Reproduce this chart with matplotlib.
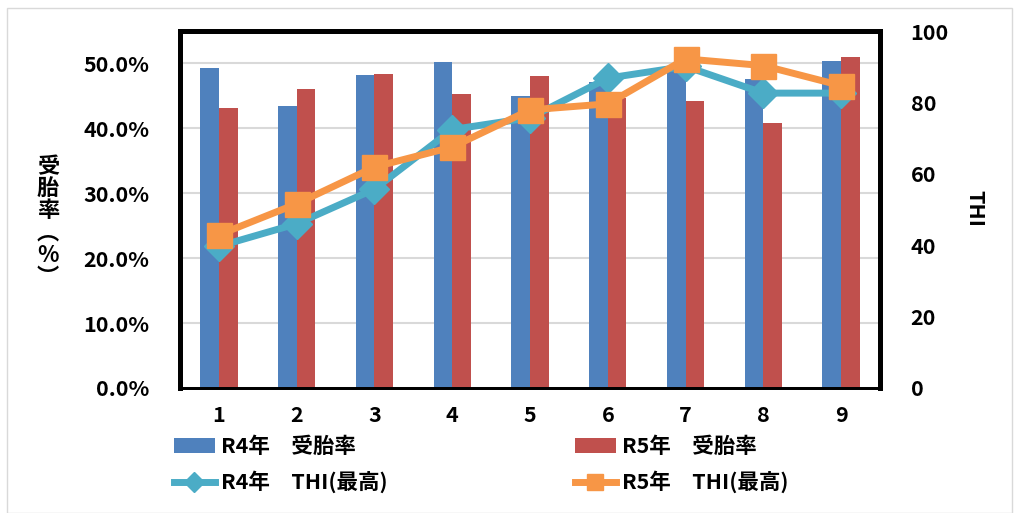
import numpy as np
import matplotlib.pyplot as plt
from matplotlib.patches import Rectangle
from matplotlib.ticker import FuncFormatter

plt.rcParams['font.family'] = ['Noto Sans CJK JP', 'DejaVu Sans']
plt.rcParams['font.weight'] = 'bold'

# データ
months = [1, 2, 3, 4, 5, 6, 7, 8, 9]
r4_rate = [0.493, 0.434, 0.482, 0.502, 0.450, 0.471, 0.490, 0.476, 0.504]
r5_rate = [0.431, 0.460, 0.484, 0.453, 0.480, 0.447, 0.442, 0.408, 0.510]
r4_thi = [39.7, 46.0, 55.7, 72.4, 75.7, 86.8, 90.1, 82.6, 82.6]
r5_thi = [42.9, 51.6, 61.9, 67.5, 77.9, 79.6, 92.2, 90.3, 84.7]

labels = ['R4年\u3000受胎率', 'R5年\u3000受胎率', 'R4年\u3000THI(最高)', 'R5年\u3000THI(最高)']

fig = plt.figure(figsize=(10.19, 5.13), dpi=100)
ax = fig.add_axes([180/1019, 1-388/513, 700/1019, 357/513])
ax2 = ax.twinx()

x = np.array(months)
w = 0.24
b1 = ax.bar(x - w/2, r4_rate, w, color='#4F81BD', label=labels[0], zorder=2)
b2 = ax.bar(x + w/2, r5_rate, w, color='#C0504D', label=labels[1], zorder=2)

l1, = ax2.plot(x, r4_thi, color='#4BACC6', lw=5, marker='D', ms=15, label=labels[2])
l2, = ax2.plot(x, r5_thi, color='#F79646', lw=5, marker='s', ms=18, label=labels[3])

ax.set_xlim(0.5, 9.5)
ax.set_ylim(0, 0.55)
ax.set_yticks(np.arange(0, 0.51, 0.1))
ax.yaxis.set_major_formatter(FuncFormatter(lambda v, p: f'{v*100:.1f}%'))
ax.set_xticks(months)
ax.grid(axis='y', color='#D9D9D9', lw=1.5, zorder=0)
ax.set_axisbelow(True)

ax2.set_ylim(0, 100)
ax2.set_yticks(np.arange(0, 101, 20))

for a in (ax, ax2):
    a.tick_params(length=0, labelsize=15.5)
    for s in ('left', 'right', 'top'):
        a.spines[s].set_linewidth(3.5)
    a.spines['bottom'].set_linewidth(2)
ax.tick_params(axis='y', pad=22)
ax.tick_params(axis='x', pad=12)
ax2.tick_params(axis='y', pad=22)

fig.text(48/1019, 1-222/513, '受\n胎\n率\n︵\n%\n︶', fontsize=16, ha='center', va='center',
         linespacing=0.95, fontweight='bold')
fig.text(975/1019, 1-208/513, 'THI', fontsize=15.5, rotation=-90, ha='center', va='center',
         fontweight='bold')

leg = fig.legend([b1, l1, b2, l2], [labels[0], labels[2], labels[1], labels[3]],
                 ncol=2, loc='upper left', bbox_to_anchor=(165/1019, 1-427/513),
                 frameon=False, fontsize=15.5, handlelength=1.9, handletextpad=0.3,
                 columnspacing=8.7, labelspacing=0.65, borderaxespad=0, markerscale=0.65)

fig.patches.append(Rectangle((7/1019, 0), 1-14/1019, 1-8/513, transform=fig.transFigure,
                             fill=False, edgecolor='#D9D9D9', lw=1))

fig.savefig('out.png', dpi=100)
